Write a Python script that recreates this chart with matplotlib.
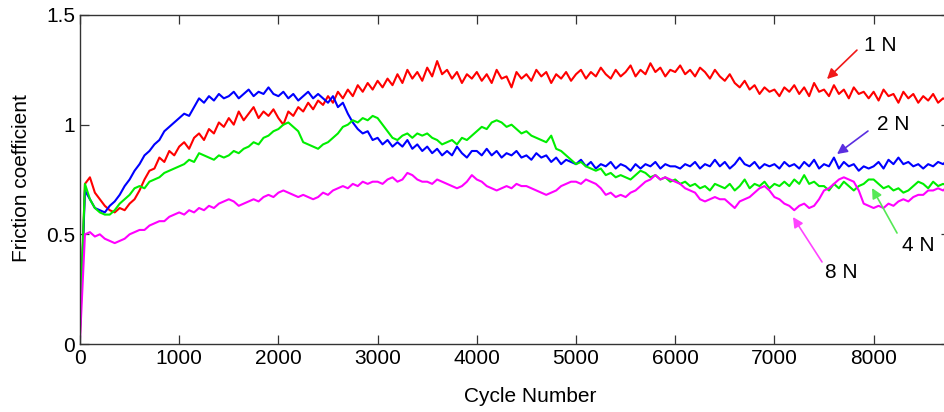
import matplotlib
matplotlib.use("Agg")
import matplotlib.pyplot as plt

# cycle numbers, sampled every 50 cycles
cycles = list(range(0, 8800, 50))

# friction coefficient per load
mu_1n = [
    0.05, 0.73, 0.76, 0.69, 0.66, 0.63, 0.61, 0.60, 0.62, 0.61, 0.64, 0.66, 0.70, 0.75, 0.79, 0.80, 0.85, 0.83, 0.88, 0.86,
    0.90, 0.92, 0.89, 0.94, 0.96, 0.93, 0.98, 0.96, 1.01, 0.99, 1.03, 1.00, 1.06, 1.02, 1.05, 1.08, 1.03, 1.06, 1.04, 1.07,
    1.03, 1.00, 1.06, 1.04, 1.08, 1.06, 1.10, 1.07, 1.11, 1.09, 1.13, 1.10, 1.15, 1.12, 1.16, 1.13, 1.18, 1.15, 1.19, 1.16,
    1.20, 1.17, 1.21, 1.18, 1.23, 1.19, 1.25, 1.21, 1.24, 1.20, 1.26, 1.22, 1.29, 1.23, 1.25, 1.21, 1.24, 1.19, 1.23, 1.21,
    1.24, 1.20, 1.23, 1.19, 1.25, 1.21, 1.22, 1.17, 1.24, 1.21, 1.23, 1.20, 1.25, 1.22, 1.24, 1.19, 1.23, 1.21, 1.24, 1.20,
    1.23, 1.25, 1.21, 1.24, 1.22, 1.26, 1.23, 1.21, 1.25, 1.22, 1.24, 1.27, 1.22, 1.25, 1.23, 1.28, 1.24, 1.26, 1.22, 1.25,
    1.24, 1.27, 1.23, 1.25, 1.22, 1.26, 1.24, 1.21, 1.25, 1.22, 1.20, 1.23, 1.19, 1.17, 1.20, 1.16, 1.18, 1.14, 1.17, 1.15,
    1.16, 1.13, 1.17, 1.15, 1.18, 1.14, 1.17, 1.13, 1.19, 1.15, 1.16, 1.13, 1.18, 1.14, 1.16, 1.12, 1.17, 1.14, 1.15, 1.12,
    1.15, 1.11, 1.16, 1.13, 1.14, 1.10, 1.15, 1.12, 1.14, 1.10, 1.13, 1.11, 1.14, 1.10, 1.12, 1.11,
]
mu_2n = [
    0.08, 0.70, 0.66, 0.62, 0.61, 0.60, 0.63, 0.65, 0.68, 0.72, 0.75, 0.79, 0.82, 0.86, 0.88, 0.91, 0.93, 0.97, 0.99, 1.01,
    1.03, 1.05, 1.04, 1.08, 1.12, 1.10, 1.13, 1.11, 1.14, 1.12, 1.13, 1.15, 1.12, 1.14, 1.16, 1.13, 1.15, 1.14, 1.17, 1.14,
    1.13, 1.15, 1.12, 1.14, 1.11, 1.13, 1.15, 1.12, 1.14, 1.12, 1.10, 1.13, 1.08, 1.10, 1.05, 1.01, 0.98, 0.96, 0.97, 0.93,
    0.94, 0.91, 0.93, 0.90, 0.92, 0.90, 0.93, 0.89, 0.91, 0.88, 0.90, 0.87, 0.89, 0.86, 0.88, 0.86, 0.90, 0.87, 0.85, 0.88,
    0.88, 0.86, 0.89, 0.86, 0.88, 0.85, 0.87, 0.86, 0.88, 0.85, 0.86, 0.84, 0.87, 0.85, 0.86, 0.83, 0.85, 0.82, 0.84, 0.83,
    0.82, 0.84, 0.81, 0.83, 0.80, 0.82, 0.81, 0.83, 0.80, 0.82, 0.81, 0.79, 0.82, 0.80, 0.82, 0.81, 0.83, 0.80, 0.82, 0.81,
    0.81, 0.80, 0.82, 0.81, 0.83, 0.80, 0.82, 0.81, 0.84, 0.81, 0.83, 0.80, 0.82, 0.85, 0.82, 0.81, 0.83, 0.80, 0.82, 0.81,
    0.82, 0.80, 0.83, 0.81, 0.82, 0.80, 0.83, 0.81, 0.84, 0.80, 0.82, 0.81, 0.85, 0.80, 0.83, 0.81, 0.82, 0.79, 0.81, 0.80,
    0.81, 0.83, 0.80, 0.84, 0.82, 0.85, 0.82, 0.83, 0.81, 0.82, 0.80, 0.82, 0.81, 0.83, 0.82, 0.84,
]
mu_4n = [
    0.10, 0.73, 0.66, 0.62, 0.60, 0.59, 0.59, 0.61, 0.64, 0.66, 0.68, 0.71, 0.72, 0.71, 0.74, 0.75, 0.76, 0.78, 0.79, 0.80,
    0.81, 0.82, 0.84, 0.83, 0.87, 0.86, 0.85, 0.84, 0.86, 0.85, 0.86, 0.88, 0.87, 0.89, 0.90, 0.92, 0.91, 0.94, 0.95, 0.97,
    0.98, 1.00, 1.01, 0.99, 0.97, 0.92, 0.91, 0.90, 0.89, 0.91, 0.92, 0.94, 0.96, 0.99, 1.00, 1.02, 1.01, 1.03, 1.02, 1.04,
    1.03, 1.00, 0.97, 0.94, 0.93, 0.95, 0.96, 0.94, 0.96, 0.95, 0.96, 0.94, 0.93, 0.91, 0.92, 0.93, 0.91, 0.94, 0.93, 0.95,
    0.97, 0.99, 0.98, 1.01, 1.02, 1.01, 0.99, 1.00, 0.98, 0.96, 0.97, 0.95, 0.94, 0.93, 0.92, 0.95, 0.89, 0.88, 0.86, 0.84,
    0.82, 0.83, 0.81, 0.80, 0.79, 0.80, 0.77, 0.78, 0.76, 0.77, 0.76, 0.75, 0.77, 0.79, 0.78, 0.76, 0.77, 0.75, 0.76, 0.74,
    0.75, 0.73, 0.74, 0.72, 0.73, 0.71, 0.72, 0.70, 0.73, 0.72, 0.71, 0.73, 0.70, 0.72, 0.75, 0.71, 0.73, 0.72, 0.74, 0.71,
    0.73, 0.72, 0.74, 0.72, 0.75, 0.73, 0.77, 0.73, 0.74, 0.72, 0.72, 0.70, 0.73, 0.71, 0.74, 0.72, 0.70, 0.72, 0.73, 0.75,
    0.75, 0.73, 0.71, 0.72, 0.70, 0.71, 0.69, 0.70, 0.72, 0.74, 0.73, 0.71, 0.74, 0.72, 0.73, 0.72,
]
mu_8n = [
    0.02, 0.50, 0.51, 0.49, 0.50, 0.48, 0.47, 0.46, 0.47, 0.48, 0.50, 0.51, 0.52, 0.52, 0.54, 0.55, 0.56, 0.56, 0.58, 0.59,
    0.60, 0.59, 0.61, 0.60, 0.62, 0.61, 0.63, 0.62, 0.64, 0.65, 0.66, 0.65, 0.63, 0.64, 0.65, 0.66, 0.65, 0.67, 0.68, 0.67,
    0.69, 0.70, 0.69, 0.68, 0.67, 0.68, 0.67, 0.66, 0.67, 0.69, 0.68, 0.70, 0.71, 0.72, 0.71, 0.73, 0.72, 0.74, 0.73, 0.74,
    0.74, 0.73, 0.75, 0.76, 0.74, 0.75, 0.78, 0.77, 0.75, 0.74, 0.74, 0.73, 0.75, 0.74, 0.73, 0.72, 0.71, 0.72, 0.74, 0.77,
    0.75, 0.74, 0.72, 0.71, 0.70, 0.71, 0.72, 0.71, 0.73, 0.72, 0.72, 0.71, 0.70, 0.69, 0.68, 0.69, 0.70, 0.72, 0.73, 0.74,
    0.74, 0.73, 0.75, 0.74, 0.73, 0.71, 0.68, 0.69, 0.67, 0.68, 0.67, 0.69, 0.70, 0.72, 0.74, 0.75, 0.77, 0.75, 0.76, 0.75,
    0.74, 0.73, 0.71, 0.70, 0.69, 0.66, 0.65, 0.66, 0.67, 0.66, 0.66, 0.64, 0.62, 0.65, 0.66, 0.67, 0.69, 0.71, 0.72, 0.70,
    0.67, 0.66, 0.64, 0.63, 0.61, 0.63, 0.64, 0.62, 0.63, 0.66, 0.70, 0.71, 0.73, 0.75, 0.76, 0.75, 0.74, 0.70, 0.64, 0.63,
    0.62, 0.63, 0.62, 0.64, 0.63, 0.65, 0.66, 0.65, 0.67, 0.68, 0.68, 0.70, 0.70, 0.71, 0.70, 0.72,
]

series = [
    ("1 N", mu_1n, "#ff0000"),
    ("2 N", mu_2n, "#0000ff"),
    ("4 N", mu_4n, "#00ee00"),
    ("8 N", mu_8n, "#ff00ff"),
]

# label text position, arrow tail, arrow head, arrow colour
labels = {
    "1 N": ((8064, 1.359), (7832, 1.340), (7530, 1.208), "#f01818"),
    "2 N": ((8195, 1.003), (7943, 0.971), (7631, 0.866), "#5a2ee0"),
    "4 N": ((8447, 0.451), (8236, 0.506), (7984, 0.711), "#55e855"),
    "8 N": ((7671, 0.324), (7480, 0.374), (7187, 0.579), "#ff44ff"),
}

plt.rcParams["font.family"] = ["Liberation Sans", "DejaVu Sans"]

fig = plt.figure(figsize=(9.44, 4.12), dpi=100)
# axes runs a little past the right edge, as in the cropped original
ax = fig.add_axes([80 / 944, 68 / 412, 870 / 944, 329 / 412])

for name, vals, col in series:
    ax.plot(cycles, vals, color=col, lw=1.5)

for name, (tpos, tail, head, acol) in labels.items():
    ax.annotate(
        "",
        xy=head,
        xytext=tail,
        arrowprops=dict(arrowstyle="-|>", color=acol, lw=1.2, mutation_scale=15,
                        shrinkA=0, shrinkB=0),
    )
    ax.text(tpos[0], tpos[1], name, ha="center", va="center", fontsize=15, color="#000000")

ax.set_xlim(0, 8770)
ax.set_ylim(0, 1.5)
ax.set_xticks(range(0, 9000, 1000))
ax.set_xticklabels([str(v) for v in range(0, 9000, 1000)])
ax.set_yticks([0, 0.5, 1, 1.5])
ax.set_yticklabels(["0", "0.5", "1", "1.5"])
ax.tick_params(direction="in", length=6.3, width=0.9, color="#333333",
               top=True, right=True, labelsize=15, pad=3.5, labelcolor="#000000")
for sp in ax.spines.values():
    sp.set_color("#333333")
    sp.set_linewidth(1.0)

ax.set_xlabel("Cycle Number", fontsize=15, color="#000000", va="center")
ax.xaxis.set_label_coords((530 - 80) / 870, -0.161)
ax.set_ylabel("Friction coefficient", fontsize=15, color="#000000", va="center")
ax.yaxis.set_label_coords(-0.0678, 0.505)

fig.savefig("out.png", dpi=100)
